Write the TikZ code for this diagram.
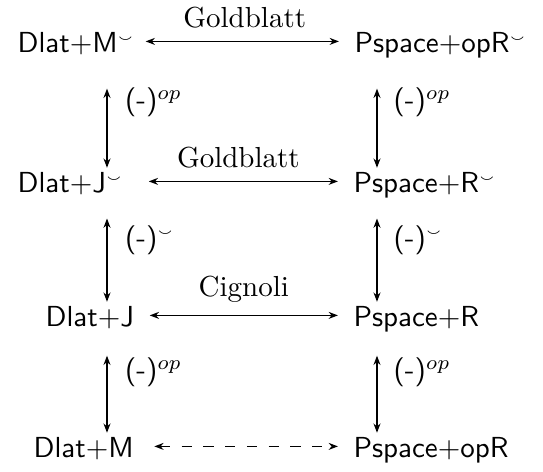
\documentclass[tikz,border=0pt]{standalone}
\usepackage{amsmath}
\usepackage{amssymb}
\usetikzlibrary{arrows.meta}
\newcommand{\cnv}{$^{\scriptscriptstyle\smallsmile}$}

\begin{document}
\begin{tikzpicture}[
  x=0.345pt, y=-0.345pt,
  obj/.style={anchor=base west, inner sep=0pt, text height=8.5pt, text depth=0.5pt, font=\sffamily},
  lbl/.style={font=\sffamily, inner sep=0pt},
  updown/.style={{Stealth[length=3.2pt,width=2.4pt]}-{Stealth[length=3.2pt,width=2.4pt]}, line width=0.5pt},
  across/.style={updown, shorten >=5.2pt}
]
\useasboundingbox (0,0) rectangle (543,472);

% Nodes
\node[obj] (dlatMc) at (17,53) {Dlat+M\cnv};
\node[obj] (psOpRc) at (354,53) {Pspace+opR\cnv};
\node[obj] (dlatJc) at (17,193) {Dlat+J\cnv};
\node[obj] (psRc) at (353,193) {Pspace+R\cnv};
\node[obj] (dlatJ) at (45,327) {Dlat+J};
\node[obj] (psR) at (353,327) {Pspace+R};
\node[obj] (dlatM) at (33,458) {Dlat+M};
\node[obj] (psOpR) at (353,458) {Pspace+opR};
\coordinate (lcol) at (107,0);
\coordinate (rcol) at (377,0);

% Arrows
\draw[across, shorten <=3.5pt] (dlatMc.east) -- node[above=1pt, font=\rmfamily] {Goldblatt} (psOpRc.west);
\draw[across, shorten <=8.6pt] (dlatJc.east) -- node[above=1pt, font=\rmfamily] {Goldblatt} (psRc.west);
\draw[across, shorten <=5.2pt] (dlatJ.east) -- node[above=1pt, font=\rmfamily] {Cignoli} (psR.west);
\draw[across, shorten <=6.9pt, dash pattern=on 3.5pt off 4pt] (dlatM.east) -- (psOpR.west);

\draw[updown, shorten <=11.6pt] (dlatMc.south -| lcol) -- node[lbl, right=6pt, pos=0.42] {(-)$^{op}$} (dlatJc.north -| lcol);
\draw[updown, shorten <=11.6pt] (psOpRc.south -| rcol) -- node[lbl, right=5.5pt, pos=0.42] {(-)$^{op}$} (psRc.north -| rcol);
\draw[updown, shorten <=8.1pt] (dlatJc.south -| lcol) -- node[lbl, right=6pt, pos=0.42] {(-)\cnv} (dlatJ.north -| lcol);
\draw[updown, shorten <=8.1pt] (psRc.south -| rcol) -- node[lbl, right=5.5pt, pos=0.42] {(-)\cnv} (psR.north -| rcol);
\draw[updown, shorten <=9.2pt] (dlatJ.south -| lcol) -- node[lbl, right=6pt, pos=0.42] {(-)$^{op}$} (dlatM.north -| lcol);
\draw[updown, shorten <=9.2pt] (psR.south -| rcol) -- node[lbl, right=5.5pt, pos=0.42] {(-)$^{op}$} (psOpR.north -| rcol);

\end{tikzpicture}
\end{document}
